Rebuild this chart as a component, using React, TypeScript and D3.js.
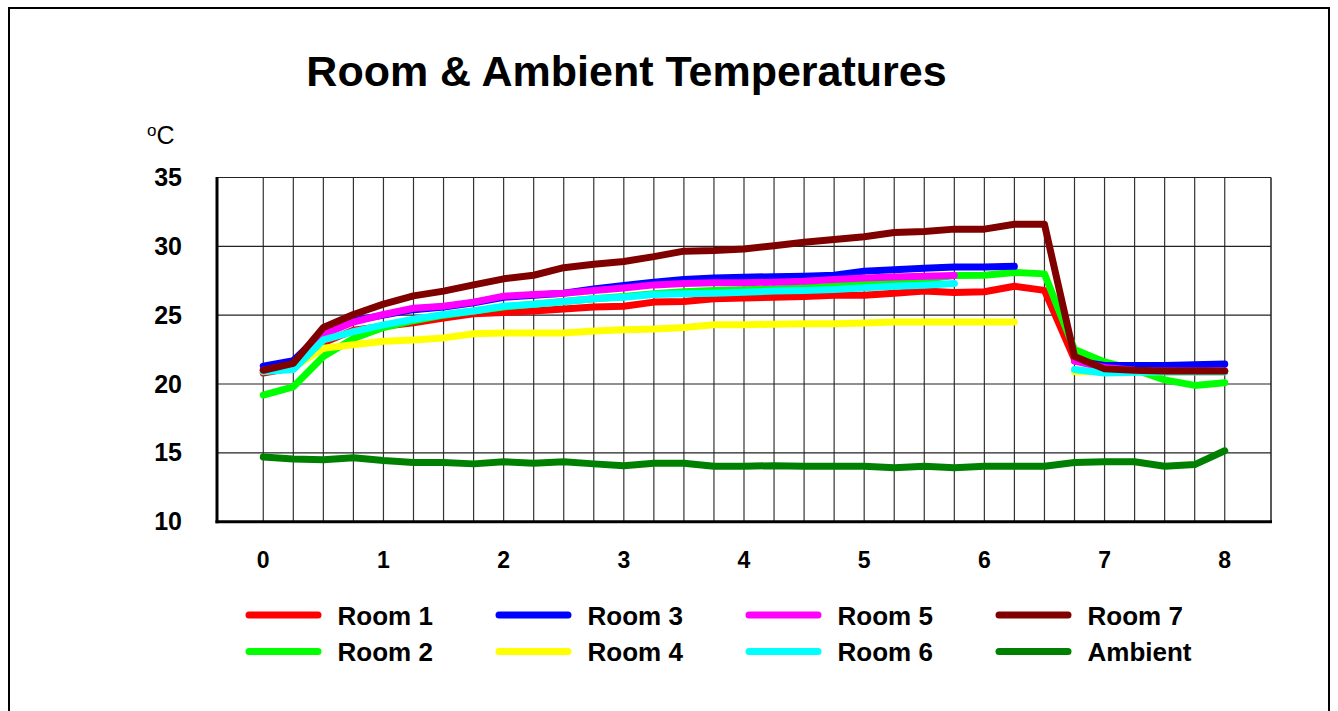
import React from "react";
import * as d3 from "d3";

const xValues: number[] = d3.range(33).map((i) => i * 0.25);
const xTicks = [0, 1, 2, 3, 4, 5, 6, 7, 8];
const yTicks = [10, 15, 20, 25, 30, 35];

const room1 = [20.8, 21.2, 23.0, 23.9, 24.2, 24.45, 24.8, 25.1, 25.2, 25.3, 25.45, 25.6, 25.65, 25.95, 26.0, 26.2, 26.25, 26.3, 26.35, 26.45, 26.45, 26.6, 26.75, 26.65, 26.7, 27.1, 26.8, 21.8, 21.05, 20.95, 20.9, 20.9, 20.9];
const room2 = [19.2, 19.8, 22.0, 23.3, 24.1, 24.6, 25.0, 25.3, 25.6, 25.8, 26.0, 26.2, 26.35, 26.55, 26.7, 26.8, 26.85, 26.9, 27.0, 27.1, 27.3, 27.4, 27.6, 27.88, 27.9, 28.1, 28.0, 22.5, 21.6, 21.05, 20.3, 19.9, 20.1];
const room3 = [21.3, 21.7, 23.8, 24.6, 25.0, 25.4, 25.6, 25.9, 26.3, 26.45, 26.6, 26.9, 27.15, 27.4, 27.6, 27.7, 27.75, 27.8, 27.83, 27.9, 28.2, 28.3, 28.4, 28.5, 28.5, 28.55, null, 21.7, 21.35, 21.35, 21.35, 21.4, 21.45];
const room4 = [20.9, 21.2, 22.6, 22.85, 23.1, 23.2, 23.35, 23.65, 23.7, 23.7, 23.7, 23.85, 23.95, 24.0, 24.1, 24.3, 24.3, 24.35, 24.37, 24.37, 24.44, 24.5, 24.5, 24.5, 24.5, 24.5, null, 20.9, 20.9, 20.9, 20.9, 20.9, 20.9];
const room5 = [21.0, 21.4, 23.6, 24.5, 25.05, 25.5, 25.65, 25.95, 26.38, 26.5, 26.6, 26.8, 26.98, 27.2, 27.3, 27.35, 27.35, 27.4, 27.46, 27.6, 27.7, 27.78, 27.83, 27.88, null, null, null, 21.66, 21.2, 21.0, 20.95, 20.95, 20.95];
const room6 = [20.9, 21.05, 23.2, 23.8, 24.3, 24.7, 25.05, 25.3, 25.65, 25.8, 26.0, 26.2, 26.3, 26.5, 26.55, 26.6, 26.67, 26.75, 26.8, 26.86, 26.99, 27.1, 27.18, 27.3, null, null, null, 21.05, 20.8, 20.85, 20.9, 20.9, 20.9];
const room7 = [21.0, 21.5, 24.1, 25.05, 25.8, 26.4, 26.75, 27.2, 27.64, 27.9, 28.45, 28.7, 28.9, 29.25, 29.65, 29.7, 29.8, 30.05, 30.3, 30.5, 30.7, 31.0, 31.08, 31.25, 31.25, 31.6, 31.6, 22.0, 21.1, 21.0, 20.95, 20.95, 20.95];
const ambient = [14.7, 14.55, 14.5, 14.65, 14.45, 14.3, 14.3, 14.2, 14.35, 14.25, 14.35, 14.2, 14.07, 14.25, 14.25, 14.03, 14.03, 14.07, 14.03, 14.03, 14.03, 13.92, 14.03, 13.92, 14.03, 14.03, 14.03, 14.3, 14.35, 14.35, 14.03, 14.15, 15.15];

const seriesNames = ["Room 1", "Room 2", "Room 3", "Room 4", "Room 5", "Room 6", "Room 7", "Ambient"];
const seriesColors = ["#ff0000", "#00ff00", "#0000ff", "#ffff00", "#ff00ff", "#00ffff", "#800000", "#008000"];
const seriesValues = [room1, room2, room3, room4, room5, room6, room7, ambient];

export default function App() {
  const left = 217, right = 1271, top = 177.5, bottom = 521.7;
  const x = d3.scaleLinear().domain([-0.385, 8.385]).range([left, right]);
  const y = d3.scaleLinear().domain([10, 35]).range([bottom, top]);
  const line = d3
    .line<number | null>()
    .defined((d) => d !== null)
    .x((_, i) => x(xValues[i]))
    .y((d) => y(d as number));
  const font = "'Liberation Sans', Arial, sans-serif";

  return (
    <svg width={1338} height={711} style={{ position: "absolute", left: 0, top: 0, display: "block" }} fontFamily={font}>
      <rect x={0} y={0} width={1338} height={711} fill="#fff" />
      <rect x={9} y={8} width={1320} height={720} fill="none" stroke="#000" strokeWidth={2} />
      <text x={626.5} y={86} textAnchor="middle" fontSize={43} fontWeight="bold">Room &amp; Ambient Temperatures</text>
      <text x={147} y={144} fontSize={25}>
        <tspan fontSize={17} dy={-8}>o</tspan>
        <tspan dy={8}>C</tspan>
      </text>
      {/* grid */}
      {xValues.map((v, i) => (
        <line key={"vx" + i} x1={x(v)} x2={x(v)} y1={top} y2={bottom} stroke="#333" strokeWidth={1.2} />
      ))}
      {yTicks.map((t) => (
        <line key={"hy" + t} x1={left} x2={right} y1={y(t)} y2={y(t)} stroke="#222" strokeWidth={1.2} />
      ))}
      <line x1={right} x2={right} y1={top} y2={bottom} stroke="#222" strokeWidth={1.5} />
      <line x1={left} x2={left} y1={top - 0.5} y2={bottom + 1.5} stroke="#000" strokeWidth={3} />
      <line x1={left - 1.5} x2={right + 1} y1={bottom} y2={bottom} stroke="#000" strokeWidth={3} />
      {yTicks.map((t) => (
        <text key={"yt" + t} x={182} y={y(t) + 8.5} textAnchor="end" fontSize={25} fontWeight="bold">{t}</text>
      ))}
      {xTicks.map((t) => (
        <text key={"xt" + t} x={x(t)} y={568} textAnchor="middle" fontSize={23} fontWeight="bold">{t}</text>
      ))}
      {seriesValues.map((vals, s) => (
        <path key={"s" + s} d={line(vals) || ""} fill="none" stroke={seriesColors[s]} strokeWidth={7} strokeLinejoin="round" strokeLinecap="round" />
      ))}
      {seriesNames.map((name, s) => {
        const col = Math.floor(s / 2);
        const row = s % 2;
        const lx = 249 + col * 250;
        const ly = 615 + row * 36.5;
        return (
          <g key={"lg" + s}>
            <line x1={lx} x2={lx + 69} y1={ly} y2={ly} stroke={seriesColors[s]} strokeWidth={7} strokeLinecap="round" />
            <text x={lx + 88.5} y={ly + 9.5} fontSize={26} fontWeight="bold">{name}</text>
          </g>
        );
      })}
    </svg>
  );
}
